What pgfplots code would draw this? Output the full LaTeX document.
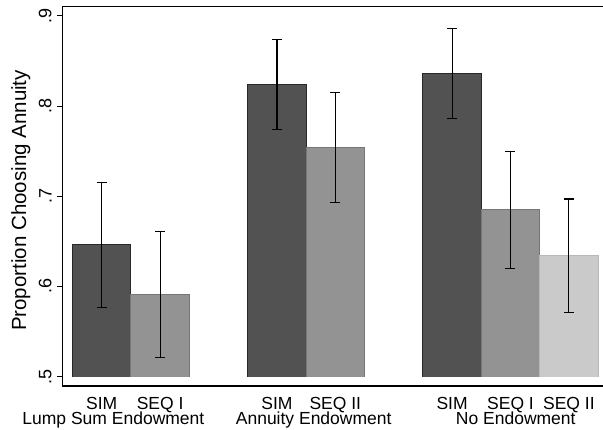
\documentclass[border=0pt]{standalone}
\usepackage{fontspec}
\setmainfont{Liberation Sans}
\usepackage{pgfplots}
\pgfplotsset{compat=1.18}
\definecolor{barA}{RGB}{82,82,82}
\definecolor{barAe}{RGB}{40,40,40}
\definecolor{barB}{RGB}{147,147,147}
\definecolor{barBe}{RGB}{118,118,118}
\definecolor{barC}{RGB}{202,202,202}
\definecolor{barCe}{RGB}{184,184,184}
\begin{document}
\begin{tikzpicture}
\useasboundingbox (0,0) rectangle (603pt,430pt);
\begin{axis}[
  at={(62.3pt,44pt)}, anchor=south west,
  scale only axis, width=540.7pt, height=379.3pt,
  xmin=-0.675, xmax=8.584, ymin=0.4895, ymax=0.9103,
  axis x line*=box, axis y line*=left,
  axis line style={-, line width=1.2pt, black},
  clip=false,
  tick align=outside, major tick length=5pt,
  ytick={0.5,0.6,0.7,0.8,0.9},
  yticklabels={.5,.6,.7,.8,.9},
  ytick pos=left,
  y tick style={line width=1pt, black},
  yticklabel style={rotate=90, anchor=south, inner xsep=0pt, inner ysep=5.5pt,
    font=\fontsize{18}{20}\selectfont},
  xtick={0,1,3,4,6,7,8},
  xticklabels={SIM,SEQ I,SIM,SEQ II,SIM,SEQ I,SEQ II},
  x tick style={draw=none},
  xticklabel pos=lower,
  xticklabel style={anchor=base, inner sep=0pt, yshift=-18.5pt,
    font=\fontsize{17.5}{19}\selectfont},
  ylabel={Proportion Choosing Annuity},
  every axis y label/.style={at={(axis description cs:-0.0671,0.489)},
    rotate=90, anchor=base, inner sep=0pt, font=\fontsize{20.5}{22}\selectfont},
  error bars/error bar style={black, line width=1.2pt},
  error bars/error mark options={black, line width=1.2pt, mark size=5pt, rotate=90},
]
\begin{scope}
\clip (axis cs:-1,0.4997) rectangle (axis cs:9,1);
\addplot[ybar, bar width=1, bar shift=0pt, fill=barA, draw=barAe, line width=0.9pt,
  error bars/.cd, y dir=both, y explicit]
  coordinates {(0,0.646) +- (0,0.069) (3,0.824) +- (0,0.050) (6,0.836) +- (0,0.050)};
\addplot[ybar, bar width=1, bar shift=0pt, fill=barB, draw=barBe, line width=0.9pt,
  error bars/.cd, y dir=both, y explicit]
  coordinates {(1,0.591) +- (0,0.070) (4,0.754) +- (0,0.061) (7,0.685) +- (0,0.065)};
\addplot[ybar, bar width=1, bar shift=0pt, fill=barC, draw=barCe, line width=0.9pt,
  error bars/.cd, y dir=both, y explicit]
  coordinates {(8,0.634) +- (0,0.063)};
\end{scope}
\node[anchor=base, inner sep=0pt, font=\fontsize{17.5}{19}\selectfont] at (axis cs:0.20,0.4466) {Lump Sum Endowment};
\node[anchor=base, inner sep=0pt, font=\fontsize{17.5}{19}\selectfont] at (axis cs:3.63,0.4466) {Annuity Endowment};
\node[anchor=base, inner sep=0pt, font=\fontsize{17.5}{19}\selectfont] at (axis cs:7.09,0.4466) {No Endowment};
\end{axis}
\end{tikzpicture}
\end{document}
